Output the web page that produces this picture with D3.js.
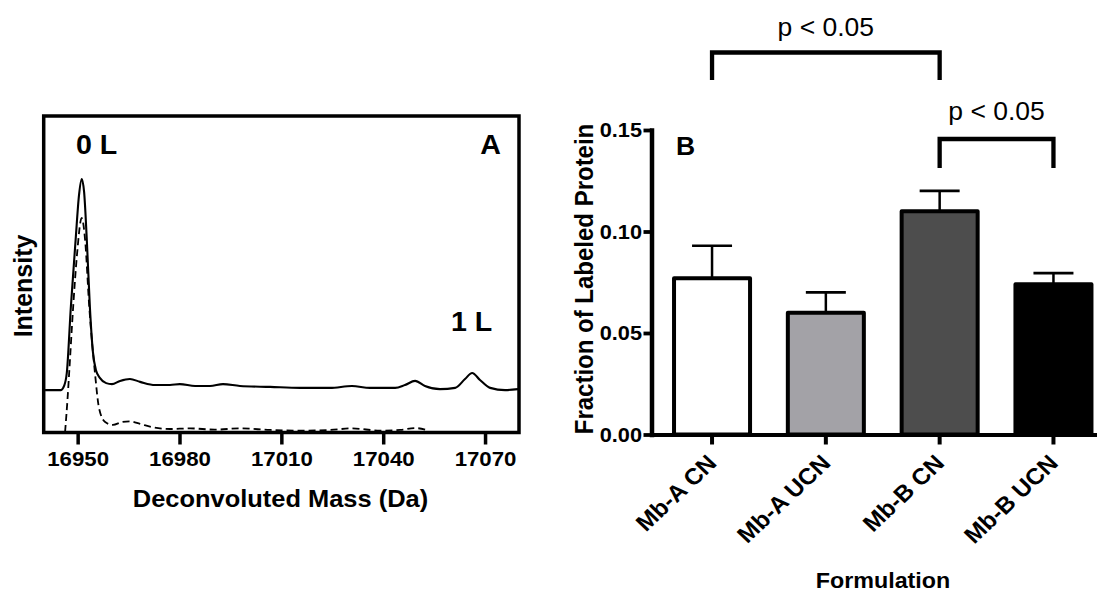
<!DOCTYPE html>
<html>
<head>
<meta charset="utf-8">
<script src="https://cdn.jsdelivr.net/npm/d3@7"></script>
<style>
  html, body { margin: 0; padding: 0; background: #fff; }
  svg { display: block; }
  text { font-family: "Liberation Sans", Arial, Helvetica, sans-serif; fill: #000; }
</style>
</head>
<body>
<svg id="chart" width="1097" height="592"></svg>
<script>
// ---- Panel A: deconvoluted mass spectra ----
const massTicks = [16950, 16980, 17010, 17040, 17070];

const solidMass = [16940.4, 16945.1, 16946.0, 16946.8, 16948.0, 16949.4, 16950.4, 16951.2, 16951.9,
  16952.7, 16953.6, 16954.5, 16955.4, 16956.6, 16958.4, 16960.1, 16962.5, 16965.4, 16968.4,
  16972.8, 16977.2, 16980.1, 16984.6, 16989.0, 16992.8, 16997.8, 17006.7, 17015.5, 17024.3,
  17030.8, 17036.1, 17043.5, 17046.4, 17049.4, 17052.3, 17056.7, 17061.2, 17064.1, 17066.2,
  17068.5, 17071.5, 17075.9, 17079.7];
const solidIntensity = [13.4, 13.4, 14.7, 18.8, 39.7, 60.8, 75.0, 80.1, 76.0,
  60.8, 39.7, 25.4, 19.7, 17.2, 15.6, 15.3, 16.3, 16.9, 16.0,
  15.0, 15.0, 15.3, 14.7, 14.7, 15.3, 14.7, 14.4, 14.1, 14.1,
  14.7, 14.1, 14.1, 15.0, 16.3, 14.7, 13.7, 14.1, 16.9, 18.8,
  16.6, 14.1, 13.4, 13.7];

const dashedMass = [16946.3, 16947.0, 16947.5, 16948.7, 16949.8, 16951.2, 16952.2, 16953.4, 16955.1,
  16956.3, 16958.1, 16960.4, 16963.1, 16965.4, 16968.4, 16971.9, 16977.2, 16983.1, 16990.4,
  16997.8, 17006.7, 17015.5, 17024.3, 17030.8, 17039.1, 17045.0, 17049.4, 17053.3];
const dashedIntensity = [0.2, 10.3, 18.8, 40.0, 56.1, 67.8, 60.8, 40.0, 18.8,
  7.7, 3.3, 2.4, 3.3, 3.5, 2.7, 1.7, 1.1, 1.3, 0.9,
  1.3, 0.8, 0.6, 0.8, 1.3, 0.6, 0.8, 1.4, 0.6];

// ---- Panel B: fraction of labeled protein ----
const formulations = ["Mb-A CN", "Mb-A UCN", "Mb-B CN", "Mb-B UCN"];
const fractionMean = [0.077, 0.060, 0.110, 0.074];
const fractionSem = [0.016, 0.010, 0.010, 0.0055];
const fractionTicks = [0, 0.05, 0.10, 0.15];
const comparisonFrom = ["Mb-A CN", "Mb-B CN"];
const comparisonTo = ["Mb-B CN", "Mb-B UCN"];
const comparisonLabel = ["p < 0.05", "p < 0.05"];

const barFills = ["#ffffff", "#a3a2a7", "#4d4d4d", "#000000"];

const svg = d3.select("#chart");
const SX = 1.06; // lettering is slightly wide

function addText(g, x, y, str, size, weight, anchor, rot) {
  return g.append("text")
    .attr("transform", `translate(${x},${y}) scale(${SX},1)` + (rot ? ` rotate(${rot})` : ""))
    .attr("text-anchor", anchor)
    .attr("font-size", size)
    .attr("font-weight", weight)
    .text(str);
}

// ---------- Panel A ----------
const ax = d3.scaleLinear().domain([16940, 17080]).range([43.7, 519]);
const ay = d3.scaleLinear().domain([0, 100]).range([432.5, 116]);
const A = svg.append("g");

const specLine = d3.line()
  .x(d => ax(d[0]))
  .y(d => ay(d[1]))
  .curve(d3.curveMonotoneX);

A.append("path")
  .datum(d3.zip(dashedMass, dashedIntensity))
  .attr("d", specLine)
  .attr("fill", "none")
  .attr("stroke", "#000")
  .attr("stroke-width", 1.8)
  .attr("stroke-dasharray", "7,4");

A.append("path")
  .datum(d3.zip(solidMass, solidIntensity))
  .attr("d", specLine)
  .attr("fill", "none")
  .attr("stroke", "#000")
  .attr("stroke-width", 2.1);

A.append("rect")
  .attr("x", ax.range()[0])
  .attr("y", ay.range()[1])
  .attr("width", ax.range()[1] - ax.range()[0])
  .attr("height", ay.range()[0] - ay.range()[1])
  .attr("fill", "none")
  .attr("stroke", "#000")
  .attr("stroke-width", 3.5);

const axA = A.append("g")
  .attr("transform", `translate(0,${ay(0)})`)
  .call(d3.axisBottom(ax).tickValues(massTicks).tickSize(12).tickPadding(7).tickFormat(d3.format("d")));
axA.select(".domain").remove();
axA.selectAll(".tick line").attr("stroke", "#000").attr("stroke-width", 3.5);
axA.selectAll(".tick text")
  .attr("font-size", 21)
  .attr("font-weight", "bold")
  .attr("fill", "#000")
  .attr("transform", `scale(${SX},1)`);

addText(A, 76, 154, "0 L", 27, "bold", "start");
addText(A, 501, 154, "A", 27, "bold", "end");
addText(A, 451, 331, "1 L", 27, "bold", "start");
addText(A, 280.5, 507, "Deconvoluted Mass (Da)", 24, "bold", "middle");
addText(A, 32, 286, "Intensity", 25, "bold", "middle", -90);

// ---------- Panel B ----------
const bx = d3.scaleBand().domain(formulations).range([651.5, 1114]).paddingInner(0.332).paddingOuter(0.198);
const by = d3.scaleLinear().domain([0, 0.15]).range([434.5, 130]);
const B = svg.append("g");
const cx = name => bx(name) + bx.bandwidth() / 2;

const rows = formulations.map((f, i) => ({ f, m: fractionMean[i], e: fractionSem[i], fill: barFills[i] }));

// error bars (upper half only shows above the bar)
B.selectAll(".err").data(rows).join("line")
  .attr("x1", d => cx(d.f)).attr("x2", d => cx(d.f))
  .attr("y1", d => by(d.m)).attr("y2", d => by(d.m + d.e))
  .attr("stroke", "#000").attr("stroke-width", 2.5);
B.selectAll(".cap").data(rows).join("line")
  .attr("x1", d => cx(d.f) - 20).attr("x2", d => cx(d.f) + 20)
  .attr("y1", d => by(d.m + d.e)).attr("y2", d => by(d.m + d.e))
  .attr("stroke", "#000").attr("stroke-width", 2.6);

B.selectAll(".bar").data(rows).join("rect")
  .attr("x", d => bx(d.f))
  .attr("width", bx.bandwidth())
  .attr("y", d => by(d.m))
  .attr("height", d => by(0) - by(d.m))
  .attr("fill", d => d.fill)
  .attr("stroke", "#000")
  .attr("stroke-width", 4)
  .attr("stroke-linejoin", "round");

const axBy = B.append("g")
  .attr("transform", `translate(${bx.range()[0]},0)`)
  .call(d3.axisLeft(by).tickValues(fractionTicks).tickFormat(d3.format(".2f")).tickSize(8).tickSizeOuter(0).tickPadding(1));
axBy.select(".domain").attr("stroke", "#000").attr("stroke-width", 4.5).attr("stroke-linecap", "square");
axBy.selectAll(".tick line").attr("stroke", "#000").attr("stroke-width", 3.8);
axBy.selectAll(".tick text")
  .attr("font-size", 20.5)
  .attr("font-weight", "bold")
  .attr("fill", "#000")
  .attr("transform", `scale(${SX},1)`);

const axBx = B.append("g")
  .attr("transform", `translate(0,${by(0)})`)
  .call(d3.axisBottom(bx).tickSize(10).tickSizeOuter(0));
axBx.select(".domain").attr("stroke", "#000").attr("stroke-width", 4);
axBx.selectAll(".tick line").attr("stroke", "#000").attr("stroke-width", 4);
axBx.selectAll(".tick text")
  .attr("x", 0).attr("y", 0).attr("dy", 0)
  .attr("text-anchor", "end")
  .attr("font-size", 23)
  .attr("font-weight", "bold")
  .attr("fill", "#000")
  .attr("transform", `translate(6,30) scale(${SX},1) rotate(-45)`);

addText(B, 883, 588, "Formulation", 22, "bold", "middle");
addText(B, 593, 279, "Fraction of Labeled Protein", 24, "bold", "middle", -90);
addText(B, 676, 155, "B", 25, "bold", "start");

// significance brackets
const bracketTop = [52.5, 139];
const bracketLeg = [80, 168];
const labelBase = [36, 120];
comparisonLabel.forEach((lab, i) => {
  const x1 = cx(comparisonFrom[i]), x2 = cx(comparisonTo[i]);
  B.append("path")
    .attr("d", `M${x1},${bracketLeg[i]}V${bracketTop[i]}H${x2}V${bracketLeg[i]}`)
    .attr("fill", "none")
    .attr("stroke", "#000")
    .attr("stroke-width", 4.3);
  addText(B, (x1 + x2) / 2, labelBase[i], lab, 25, "normal", "middle");
});
</script>
</body>
</html>
